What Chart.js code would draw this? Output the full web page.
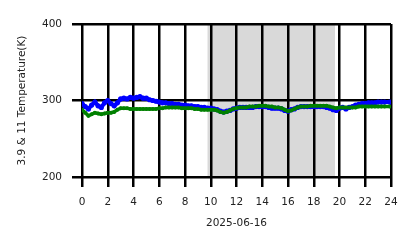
<!DOCTYPE html>
<html>
<head>
<meta charset="utf-8">
<script src="https://cdn.jsdelivr.net/npm/chart.js@4"></script>
<style>
html,body{margin:0;padding:0;background:#fff;}
#wrap{width:418px;height:248px;}
</style>
</head>
<body>
<div id="wrap"><canvas id="c" width="418" height="248"></canvas></div>
<script>
const hours = [0,0.25,0.5,0.75,1,1.25,1.5,1.75,2,2.25,2.5,2.75,3,3.25,3.5,3.75,4,4.25,4.5,4.75,5,5.25,5.5,5.75,6,6.25,6.5,6.75,7,7.25,7.5,7.75,8,8.25,8.5,8.75,9,9.25,9.5,9.75,10,10.25,10.5,10.75,11,11.25,11.5,11.75,12,12.25,12.5,12.75,13,13.25,13.5,13.75,14,14.25,14.5,14.75,15,15.25,15.5,15.75,16,16.25,16.5,16.75,17,17.25,17.5,17.75,18,18.25,18.5,18.75,19,19.25,19.5,19.75,20,20.25,20.5,20.75,21,21.25,21.5,21.75,22,22.25,22.5,22.75,23,23.25,23.5,23.9];
const temp39 = [296,292,289,294,298,293,291,297,300,296,293,297,302,303,302,304,303,304,305,303,303,301,300,299,298,297,297,296,296,295,295,294,294,293,293,292,292,291,291,290,290,289,288,286,285,286,287,289,290,291,291,291,291,291,292,292,292,292,291,290,290,290,289,287,286,288,289,291,292,292,292,292,292,292,292,292,291,290,288,287,290,291,289,291,292,294,295,296,296,297,297,297,298,298,298,298];
const temp11 = [288,284,280,282,284,283,282,283,284,284,285,288,290,290,290,289,289,289,289,289,289,289,289,289,290,290,291,291,291,291,291,290,290,290,290,289,289,288,288,288,288,288,287,285,284,285,287,289,290,291,291,291,292,292,292,293,293,293,292,292,291,291,290,288,286,287,289,291,292,292,292,293,293,293,293,293,293,292,291,290,291,291,291,291,291,291,292,292,292,292,292,292,292,292,292,292];
const xTicks = [0,2,4,6,8,10,12,14,16,18,20,22,24];
const yTicks = [200,300,400];
const shadeSpan = [9.75, 19.65];
const xTitle = '2025-06-16';
const yTitle = '3.9 & 11 Temperature(K)';

const toXY = (xs, ys) => xs.map((x, i) => ({x: x, y: ys[i]}));

const shadePlugin = {
  id: 'shade',
  beforeDraw(chart) {
    const {ctx, chartArea, scales} = chart;
    const x0 = scales.x.getPixelForValue(shadeSpan[0]);
    const x1 = scales.x.getPixelForValue(shadeSpan[1]);
    ctx.save();
    ctx.fillStyle = 'rgba(128,128,128,0.3)';
    ctx.fillRect(x0, chartArea.top, x1 - x0, chartArea.bottom - chartArea.top);
    ctx.restore();
  }
};

const font = {family: 'DejaVu Sans', size: 10.5};

new Chart(document.getElementById('c'), {
  type: 'scatter',
  data: {
    datasets: [
      {label: '11', data: toXY(hours, temp11), showLine: true, borderColor: '#008000', backgroundColor: '#008000', borderWidth: 3.5, pointRadius: 2, pointBorderWidth: 0},
      {label: '3.9', data: toXY(hours, temp39), showLine: true, borderColor: '#0000ff', backgroundColor: '#0000ff', borderWidth: 4, pointRadius: 2.6, pointBorderWidth: 0}
    ]
  },
  options: {
    responsive: false,
    animation: false,
    layout: {padding: {top: 24, right: 27, left: 0, bottom: 0}},
    plugins: {legend: {display: false}, tooltip: {enabled: false}},
    scales: {
      x: {
        type: 'linear', min: 0, max: 24,
        afterFit(s) { s.height = 71; },
        afterBuildTicks(s) { s.ticks = xTicks.map(v => ({value: v})); },
        grid: {color: '#000', lineWidth: 2.5, tickLength: 10, drawTicks: true},
        border: {display: false},
        ticks: {color: '#222', font: font, padding: 9, maxRotation: 0, autoSkip: false},
        title: {display: true, text: xTitle, color: '#222', font: font, padding: {top: 0, bottom: 18}}
      },
      y: {
        type: 'linear', min: 200, max: 400,
        afterFit(s) { s.width = 82; },
        afterBuildTicks(s) { s.ticks = yTicks.map(v => ({value: v})); },
        grid: {color: '#000', lineWidth: 2.5, tickLength: 10, drawTicks: true},
        border: {display: false},
        ticks: {color: '#222', font: font, padding: 10, autoSkip: false},
        title: {display: true, text: yTitle, color: '#222', font: font, padding: {top: 16, bottom: 0}}
      }
    }
  },
  plugins: [shadePlugin]
});
</script>
</body>
</html>
